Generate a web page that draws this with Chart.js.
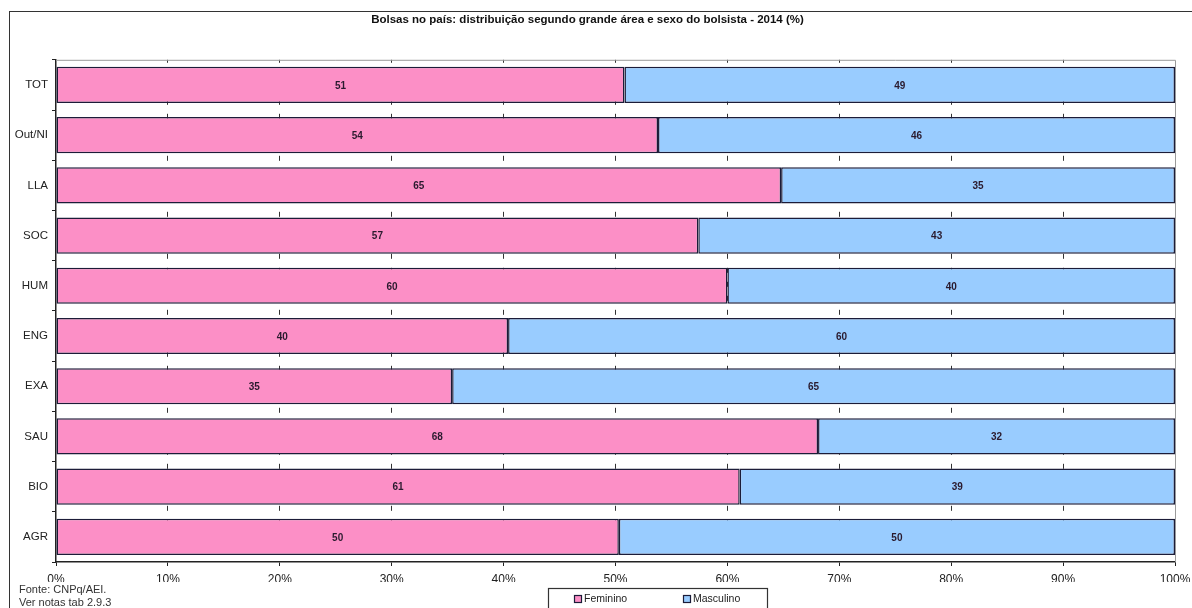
<!DOCTYPE html>
<html>
<head>
<meta charset="utf-8">
<script src="https://cdn.jsdelivr.net/npm/chart.js@4.4.1/dist/chart.umd.min.js"></script>
<style>
    html, body { margin: 0; padding: 0; background: #fff; overflow: hidden; }
    #wrap { position: relative; width: 1192px; height: 608px; }
    #frame { position: absolute; left: 9px; top: 11px; width: 1300px; height: 700px; border: 1.5px solid #333; }
    #chart { position: absolute; left: 0; top: 0; }
    .note { position: absolute; left: 19px; font: 11px "Liberation Sans", Arial, sans-serif; color: #333; }
</style>
</head>
<body>
<div id="wrap">
    <div id="frame"></div>
    <canvas id="chart" width="1192" height="608"></canvas>
    <div class="note" style="top:583px">Fonte: CNPq/AEI.</div>
    <div class="note" style="top:596px">Ver notas tab 2.9.3</div>
</div>
<script>
// Chart data
const areas = ['TOT', 'Out/NI', 'LLA', 'SOC', 'HUM', 'ENG', 'EXA', 'SAU', 'BIO', 'AGR'];
const feminino = [50.8, 53.8, 64.8, 57.4, 60.0, 40.4, 35.4, 68.1, 61.1, 50.3];
const masculino = [49.2, 46.2, 35.2, 42.6, 40.0, 59.6, 64.6, 31.9, 38.9, 49.7];
const xTicks = [0, 10, 20, 30, 40, 50, 60, 70, 80, 90, 100];

const pink = '#FC8FC6';
const blue = '#99CCFF';
const edge = '#1c1c38';
const font = '"Liberation Sans", Arial, sans-serif';

// Value labels in the middle of each segment
const segmentLabels = {
    id: 'segmentLabels',
    afterDatasetsDraw(chart) {
        const ctx = chart.ctx;
        ctx.save();
        ctx.font = 'bold 10px ' + font;
        ctx.fillStyle = '#2a1a2e';
        ctx.textAlign = 'center';
        ctx.textBaseline = 'middle';
        chart.data.datasets.forEach((ds, i) => {
            chart.getDatasetMeta(i).data.forEach((bar, j) => {
                const c = bar.getCenterPoint();
                ctx.fillText(Math.round(ds.data[j]), c.x, c.y + 1);
            });
        });
        ctx.restore();
    }
};

// Plot frame (top / right) and boxed legend under the axis
const frameAndLegend = {
    id: 'frameAndLegend',
    afterDraw(chart) {
        const ctx = chart.ctx;
        const a = chart.chartArea;
        ctx.save();
        ctx.strokeStyle = '#9a9a9a';
        ctx.lineWidth = 1;
        ctx.beginPath();
        ctx.moveTo(a.left, a.top + 0.5);
        ctx.lineTo(a.right + 0.5, a.top + 0.5);
        ctx.lineTo(a.right + 0.5, a.bottom);
        ctx.stroke();

        // legend box
        ctx.strokeStyle = '#333';
        ctx.lineWidth = 1.2;
        ctx.strokeRect(548.5, 588.5, 219, 26);
        ctx.font = '10.5px ' + font;
        ctx.textBaseline = 'middle';
        const xs = [574, 683];
        chart.data.datasets.forEach((ds, i) => {
            ctx.fillStyle = ds.backgroundColor;
            ctx.fillRect(xs[i], 595, 8, 8);
            ctx.strokeStyle = edge;
            ctx.lineWidth = 1.2;
            ctx.strokeRect(xs[i] + 0.5, 595.5, 7, 7);
            ctx.fillStyle = '#222';
            ctx.fillText(ds.label, xs[i] + 10, 599.5);
        });
        ctx.restore();
    }
};

new Chart(document.getElementById('chart'), {
    type: 'bar',
    data: {
        labels: areas,
        datasets: [
            {
                label: 'Feminino',
                data: feminino,
                backgroundColor: pink,
                borderColor: edge,
                borderWidth: 1.5,
                borderSkipped: false,
            },
            {
                label: 'Masculino',
                data: masculino,
                backgroundColor: blue,
                borderColor: edge,
                borderWidth: 1.5,
                borderSkipped: false,
            },
        ],
    },
    options: {
        indexAxis: 'y',
        responsive: false,
        animation: false,
        datasets: { bar: { categoryPercentage: 1, barPercentage: 0.72 } },
        layout: { padding: { left: 0, right: 17, top: 0, bottom: 26 } },
        plugins: {
            legend: { display: false },
            tooltip: { enabled: false },
            title: {
                display: true,
                text: 'Bolsas no país: distribuição segundo grande área e sexo do bolsista - 2014 (%)',
                color: '#111',
                font: { family: font, size: 11.5, weight: 'bold' },
                padding: { top: 13, bottom: 33 },
            },
        },
        scales: {
            x: {
                stacked: true,
                min: 0,
                max: 100,
                afterBuildTicks: (s) => { s.ticks = xTicks.map((v) => ({ value: v })); },
                afterFit: (s) => {
                    s.height = 20;
                    s.paddingLeft = 0;
                    s.paddingRight = 0;
                },
                ticks: {
                    callback: (v) => v + '%',
                    color: '#222',
                    padding: 6,
                    maxRotation: 0,
                    font: { family: font, size: 12 },
                },
                grid: {
                    color: (c) => (c.tick && (c.tick.value === 0 || c.tick.value === 100)) ? 'rgba(0,0,0,0)' : '#333',
                    tickColor: '#222',
                    tickLength: 4,
                    lineWidth: 1,
                },
                border: { display: true, color: '#222', width: 1.5, dash: [5, 9], dashOffset: 2 },
            },
            y: {
                stacked: true,
                afterFit: (s) => { s.width = 56; },
                ticks: {
                    color: '#222',
                    padding: 4,
                    font: { family: font, size: 11.5 },
                },
                grid: {
                    drawOnChartArea: false,
                    drawTicks: true,
                    tickLength: 4,
                    tickColor: '#222',
                    offset: true,
                },
                border: { display: true, color: '#222', width: 1.5 },
            },
        },
    },
    plugins: [segmentLabels, frameAndLegend],
});
</script>
</body>
</html>
